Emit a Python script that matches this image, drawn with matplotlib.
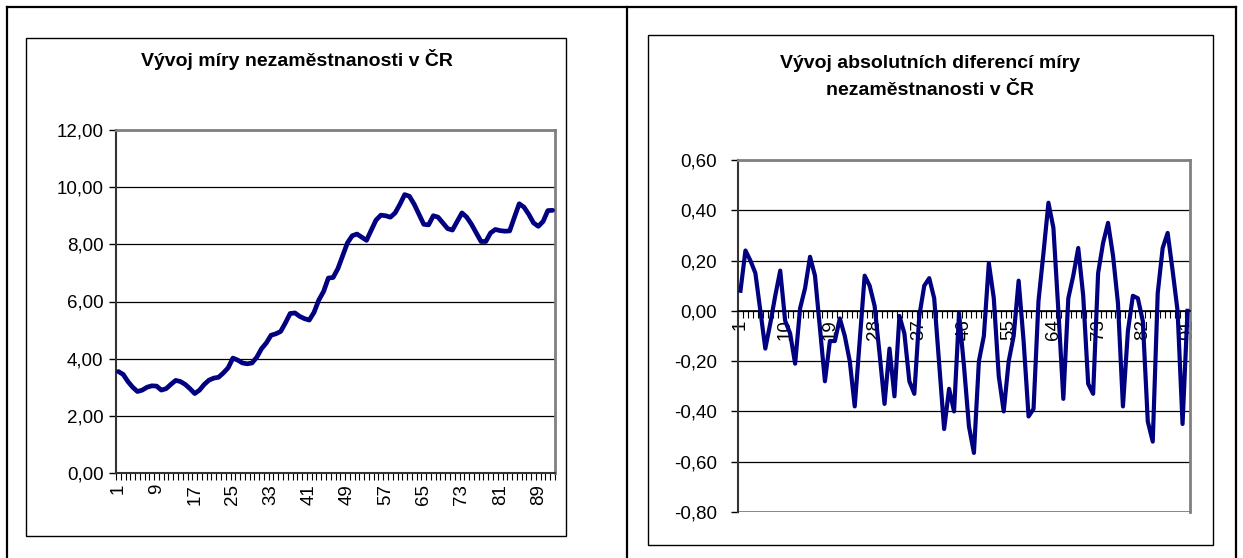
import matplotlib.pyplot as plt
from matplotlib.lines import Line2D
from matplotlib.patches import Rectangle
from matplotlib.ticker import FixedLocator, FuncFormatter

plt.rcParams['font.family'] = ['Liberation Sans', 'DejaVu Sans']

# --- data ---
# unemployment rate (%), periods 1..92
rate = [
    3.55, 3.45, 3.20, 3.00, 2.85, 2.90, 3.00, 3.05, 3.04, 2.90,
    2.95, 3.10, 3.24, 3.20, 3.10, 2.95, 2.78, 2.90, 3.10, 3.25,
    3.32, 3.35, 3.50, 3.68, 4.02, 3.95, 3.85, 3.82, 3.85, 4.05,
    4.35, 4.55, 4.82, 4.87, 4.95, 5.25, 5.58, 5.60, 5.48, 5.40,
    5.35, 5.62, 6.05, 6.35, 6.82, 6.84, 7.15, 7.60, 8.05, 8.30,
    8.36, 8.25, 8.14, 8.50, 8.85, 9.02, 9.00, 8.95, 9.10, 9.40,
    9.74, 9.68, 9.40, 9.05, 8.70, 8.68, 9.00, 8.95, 8.75, 8.55,
    8.50, 8.80, 9.10, 8.95, 8.70, 8.40, 8.10, 8.10, 8.40, 8.52,
    8.48, 8.46, 8.47, 8.95, 9.42, 9.30, 9.05, 8.75, 8.63, 8.80,
    9.18, 9.19,
]

# absolute differences, periods 1..91
diff = [
    0.08, 0.24, 0.20, 0.15, 0.00, -0.15, -0.05, 0.06, 0.16, -0.04,
    -0.09, -0.21, 0.01, 0.09, 0.215, 0.14, -0.07, -0.28, -0.12, -0.12,
    -0.03, -0.10, -0.20, -0.38, -0.12, 0.14, 0.10, 0.02, -0.17, -0.37,
    -0.15, -0.34, -0.02, -0.09, -0.28, -0.33, -0.02, 0.10, 0.13, 0.05,
    -0.21, -0.47, -0.31, -0.40, -0.01, -0.22, -0.46, -0.565, -0.20, -0.10,
    0.19, 0.05, -0.26, -0.40, -0.20, -0.10, 0.12, -0.12, -0.42, -0.39,
    0.04, 0.23, 0.43, 0.33, 0.00, -0.35, 0.05, 0.14, 0.25, 0.06,
    -0.29, -0.33, 0.15, 0.27, 0.35, 0.22, 0.03, -0.38, -0.08, 0.06,
    0.05, -0.04, -0.44, -0.52, 0.07, 0.25, 0.31, 0.16, 0.00, -0.45,
    0.00,
]

left_title = "Vývoj míry nezaměstnanosti v ČR"
right_title = "Vývoj absolutních diferencí míry\nnezaměstnanosti v ČR"

W, H = 1243, 558
LINE = "#000080"
FRAME = "#808080"


def px_axes(fig, x0, y0, x1, y1):
    # axes from pixel box (top-left origin)
    return fig.add_axes([x0 / W, 1 - y1 / H, (x1 - x0) / W, (y1 - y0) / H])


def comma_fmt(v, pos):
    return f"{v:.2f}".replace(".", ",")


def style_axes(ax, n, label_step, yticks, ypad):
    x = list(range(1, n + 1))
    ax.set_xlim(0.5, n + 0.5)
    ax.set_ylim(yticks[0], yticks[-1])
    ax.xaxis.set_major_locator(FixedLocator(x[::label_step]))
    ax.xaxis.set_minor_locator(FixedLocator([i + 0.5 for i in range(0, n + 1)]))
    ax.tick_params(axis="x", which="major", length=0, labelrotation=90,
                   labelsize=13.5, pad=8)
    ax.tick_params(axis="x", which="minor", length=5, width=0.8,
                   direction="out", color="black")
    ax.set_yticks(yticks)
    ax.yaxis.set_major_formatter(FuncFormatter(comma_fmt))
    ax.tick_params(axis="y", length=5, width=1, direction="out",
                   labelsize=13.5, pad=ypad)
    ax.grid(axis="y", color="black", linewidth=0.9)
    ax.set_axisbelow(True)
    for s in ("top", "right"):
        ax.spines[s].set_color(FRAME)
        ax.spines[s].set_linewidth(2)
    ax.spines["left"].set_color("#333333")
    ax.spines["left"].set_linewidth(1.5)
    return x


fig = plt.figure(figsize=(W / 100, H / 100), dpi=100)

# outer table frame
for (xa, ya, xb, yb) in [(7, 7, 1236, 7), (7, 7, 7, 558), (1236, 7, 1236, 558), (627, 7, 627, 558)]:
    fig.add_artist(Line2D([xa / W, xb / W], [1 - ya / H, 1 - yb / H],
                          color="black", linewidth=1.6, transform=fig.transFigure))

# chart boxes
for (xa, ya, xb, yb) in [(26, 38, 566, 536), (648, 35, 1213, 545)]:
    fig.add_artist(Rectangle((xa / W, 1 - yb / H), (xb - xa) / W, (yb - ya) / H,
                             fill=False, edgecolor="black", linewidth=1.0,
                             transform=fig.transFigure))

# left chart
ax1 = px_axes(fig, 116, 130, 555, 473)
xs = style_axes(ax1, len(rate), 8, [0, 2, 4, 6, 8, 10, 12], 4)
ax1.plot(xs, rate, color=LINE, linewidth=3.4, solid_joinstyle="round",
         solid_capstyle="round", zorder=3)
ax1.spines["bottom"].set_color("#333333")
ax1.spines["bottom"].set_linewidth(1.5)
fig.text(297 / W, 1 - 60 / H, left_title, ha="center", va="center",
         fontsize=14, fontweight="bold")

# right chart
ax2 = px_axes(fig, 738, 160, 1190, 512)
xs2 = style_axes(ax2, len(diff), 9, [-0.8, -0.6, -0.4, -0.2, 0.0, 0.2, 0.4, 0.6], 10)
ax2.plot(xs2, diff, color=LINE, linewidth=3.0, solid_joinstyle="round", zorder=3)
ax2.spines["bottom"].set_position(("data", 0))
ax2.spines["bottom"].set_color("black")
ax2.spines["bottom"].set_linewidth(1.2)
ax2.axhline(-0.8, color=FRAME, linewidth=2, zorder=1)
ax2.tick_params(axis="x", which="major", pad=6)
fig.text(930 / W, 1 - 77 / H, right_title, ha="center", va="center",
         fontsize=14, fontweight="bold", linespacing=1.75)

fig.savefig("out.png", dpi=100, facecolor="white")
